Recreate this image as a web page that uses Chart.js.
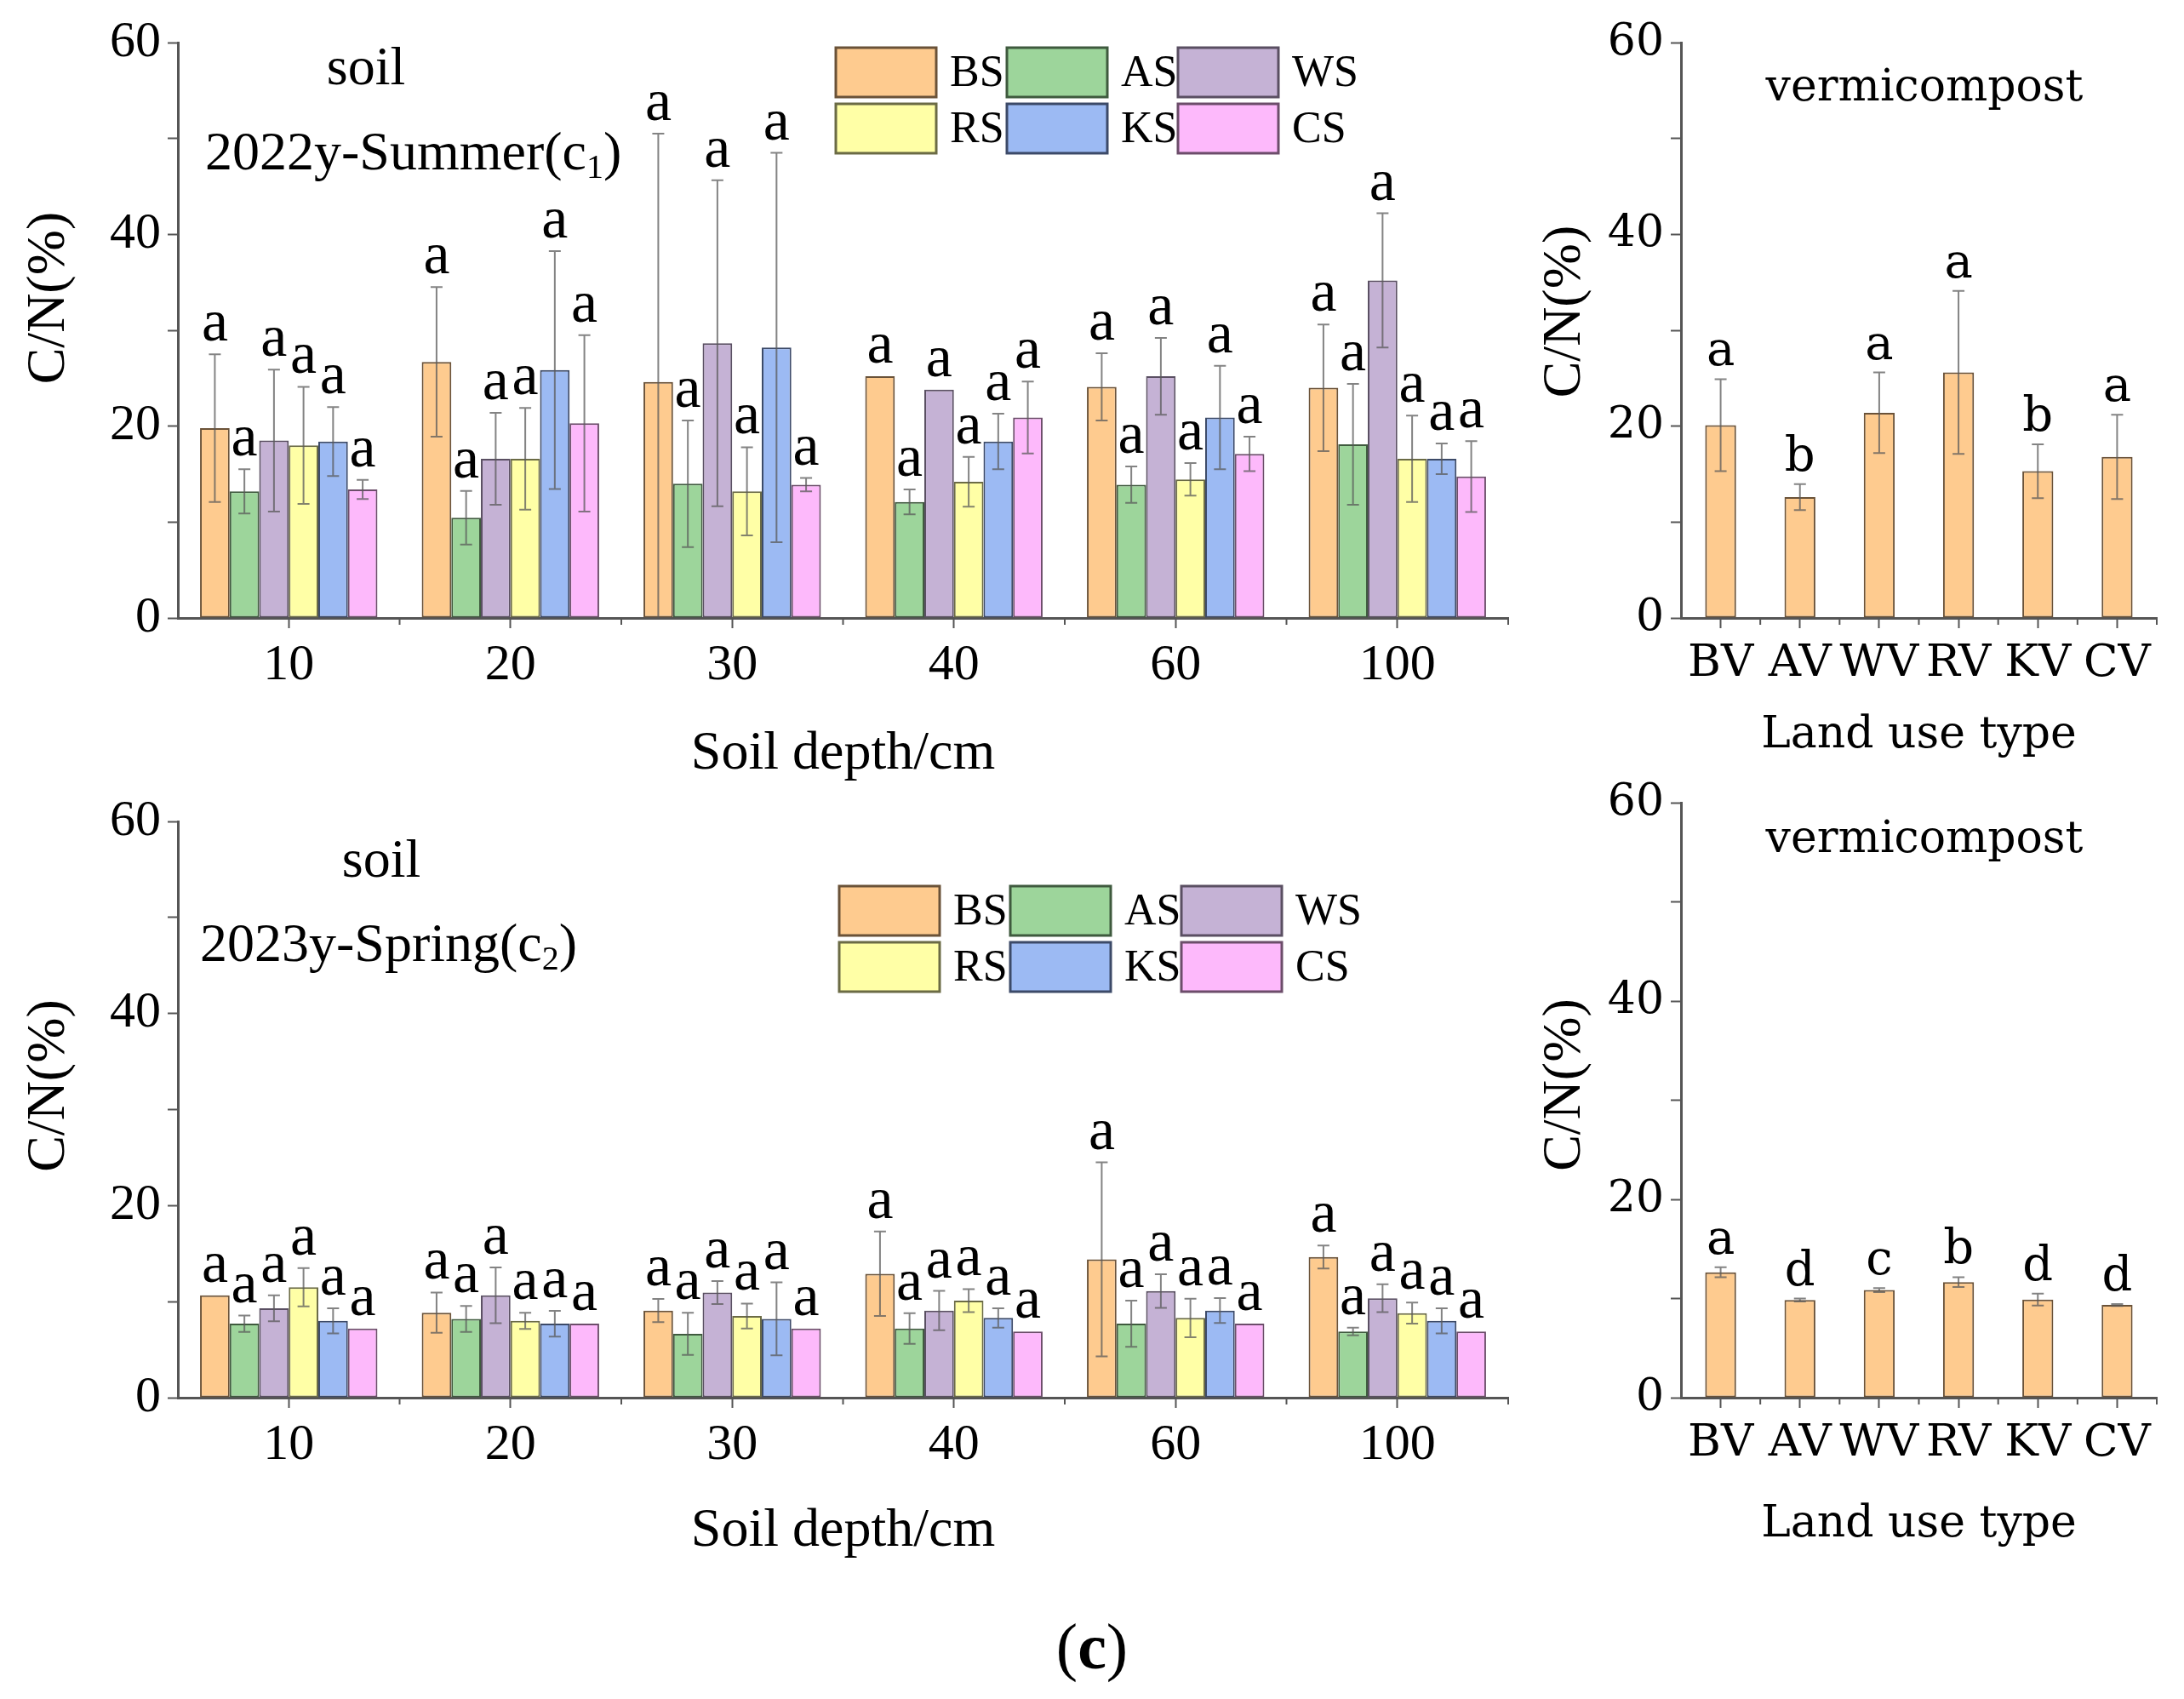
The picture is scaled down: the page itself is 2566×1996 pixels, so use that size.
<!DOCTYPE html>
<html>
<head>
<meta charset="utf-8">
<script src="https://cdn.jsdelivr.net/npm/chart.js@4.4.1/dist/chart.umd.min.js"></script>
<style>
  body { margin: 0; background: #fff; width: 2566px; height: 1996px; position: relative; overflow: hidden; }
  canvas { position: absolute; }
  #caption { position: absolute; left: 1183px; width: 200px; top: 1889px; text-align: center;
             font: 76px 'Liberation Serif', serif; line-height: 90px; color: #000; }
</style>
</head>
<body>
<canvas id="summerSoil" width="1800" height="940" style="left:0;top:0"></canvas>
<canvas id="summerVermi" width="766" height="940" style="left:1800px;top:0"></canvas>
<canvas id="springSoil" width="1800" height="1000" style="left:0;top:900px"></canvas>
<canvas id="springVermi" width="766" height="1000" style="left:1800px;top:900px"></canvas>
<div id="caption">(<b>c</b>)</div>
<script>
// categories
const depths = ['10', '20', '30', '40', '60', '100'];
const soilTypes = ['BS', 'AS', 'WS', 'RS', 'KS', 'CS'];
const landTypes = ['BV', 'AV', 'WV', 'RV', 'KV', 'CV'];

// 2022 summer, soil C/N by depth
const sumBS = [19.8, 26.7, 24.6, 25.2, 24.1, 24.0];
const sumAS = [13.2, 10.45, 14.0, 12.1, 13.9, 18.1];
const sumWS = [18.5, 16.6, 28.65, 23.8, 25.2, 35.2];
const sumRS = [18.0, 16.6, 13.2, 14.2, 14.45, 16.6];
const sumKS = [18.4, 25.85, 28.2, 18.4, 20.9, 16.6];
const sumCS = [13.4, 20.3, 13.9, 20.9, 17.1, 14.75];
const sumBSerr = [7.7, 7.8, 25.9, 0, 3.5, 6.6];
const sumASerr = [2.3, 2.8, 6.6, 1.3, 1.9, 6.3];
const sumWSerr = [7.4, 4.8, 17.0, 0, 4.0, 7.0];
const sumRSerr = [6.1, 5.3, 4.6, 2.6, 1.7, 4.5];
const sumKSerr = [3.6, 12.4, 20.3, 2.9, 5.4, 1.6];
const sumCSerr = [1.0, 9.2, 0.7, 3.75, 1.8, 3.7];

// 2023 spring, soil C/N by depth
const sprBS = [10.65, 8.85, 9.07, 12.9, 14.4, 14.65];
const sprAS = [7.7, 8.2, 6.65, 7.2, 7.7, 6.9];
const sprWS = [9.3, 10.65, 10.95, 9.07, 11.1, 10.35];
const sprRS = [11.5, 8.0, 8.5, 10.1, 8.3, 8.8];
const sprKS = [8.0, 7.7, 8.2, 8.3, 9.07, 8.0];
const sprCS = [7.2, 7.7, 7.2, 6.9, 7.7, 6.9];
const sprBSerr = [0, 2.1, 1.2, 4.4, 10.1, 1.2];
const sprASerr = [0.85, 1.35, 2.2, 1.6, 2.4, 0.4];
const sprWSerr = [1.35, 2.9, 1.2, 2.05, 1.75, 1.45];
const sprRSerr = [2.0, 0.85, 1.3, 1.2, 2.0, 1.1];
const sprKSerr = [1.3, 1.35, 3.8, 1.0, 1.3, 1.3];
const sprCSerr = [0, 0, 0, 0, 0, 0];

// vermicompost C/N by land use type
const sumVermi = [20.1, 12.6, 21.4, 25.6, 15.3, 16.8];
const sumVermiErr = [4.8, 1.35, 4.2, 8.5, 2.8, 4.4];
const sumVermiLetters = ['a', 'b', 'a', 'a', 'b', 'a'];
const sprVermi = [12.65, 9.85, 10.85, 11.65, 9.9, 9.35];
const sprVermiErr = [0.5, 0.15, 0.2, 0.5, 0.6, 0.1];
const sprVermiLetters = ['a', 'd', 'c', 'b', 'd', 'd'];

const fills = ['#FECB8F', '#9DD59B', '#C5B2D5', '#FFFFA6', '#9CBAF3', '#FDB9FB'];
const edges = ['#6a5238', '#3f5a3e', '#5a4f62', '#6b6b45', '#3c4a68', '#6c4d6a'];
const axisColor = '#555';
const TIMES = "'Liberation Serif', 'Times New Roman', serif";
const DEJAVU = "'DejaVu Serif', serif";

// error bars, letters, minor ticks, legend and panel labels
const marks = {
  id: 'marks',
  afterDatasetsDraw(chart, args, o) {
    const ctx = chart.ctx, xs = chart.scales.x, ys = chart.scales.y, area = chart.chartArea;
    ctx.save();

    // minor ticks between categories
    const step = xs.getPixelForValue(1) - xs.getPixelForValue(0);
    ctx.strokeStyle = axisColor;
    ctx.lineWidth = 2;
    for (let i = 0; i < chart.data.labels.length; i++) {
      const px = xs.getPixelForValue(i) + step / 2;
      ctx.beginPath();
      ctx.moveTo(px, area.bottom);
      ctx.lineTo(px, area.bottom + 8);
      ctx.stroke();
    }

    chart.data.datasets.forEach((ds, i) => {
      const meta = chart.getDatasetMeta(i);
      meta.data.forEach((bar, j) => {
        const v = ds.data[j], e = ds.errors[j];
        const top = ys.getPixelForValue(v + e);
        if (e > 0) {
          const low = v - e;
          const bot = ys.getPixelForValue(Math.max(low, 0));
          ctx.strokeStyle = 'rgba(90,90,90,0.75)';
          ctx.lineWidth = 2;
          ctx.beginPath();
          ctx.moveTo(bar.x, top); ctx.lineTo(bar.x, bot);
          ctx.moveTo(bar.x - o.cap, top); ctx.lineTo(bar.x + o.cap, top);
          if (low > 0) { ctx.moveTo(bar.x - o.cap, bot); ctx.lineTo(bar.x + o.cap, bot); }
          ctx.stroke();
        }
        ctx.fillStyle = '#000';
        ctx.font = o.letterFont;
        ctx.textAlign = 'center';
        ctx.textBaseline = 'alphabetic';
        ctx.fillText(ds.letters[j], bar.x, top - o.letterGap);
      });
    });

    // y axis title, a little above the middle of the axis
    ctx.save();
    ctx.translate(o.yTitle.x, (area.top + area.bottom) / 2 + o.yTitle.dy);
    ctx.rotate(-Math.PI / 2);
    ctx.font = '64px ' + TIMES;
    ctx.fillStyle = '#000';
    ctx.textAlign = 'center';
    ctx.textBaseline = 'middle';
    ctx.fillText('C/N(%)', 0, 0);
    ctx.restore();

    // panel labels
    ctx.fillStyle = '#000';
    ctx.textBaseline = 'alphabetic';
    o.labels.forEach(l => {
      ctx.font = l.font;
      ctx.textAlign = l.align;
      let x = area.left + l.dx;
      const y = area.top + l.dy;
      ctx.fillText(l.text, x, y);
      if (l.sub) {
        ctx.textAlign = 'left';
        x += ctx.measureText(l.text).width;
        ctx.font = l.subFont;
        ctx.fillText(l.sub, x, y + 10);
        x += ctx.measureText(l.sub).width;
        ctx.font = l.font;
        ctx.fillText(l.after, x, y);
      }
    });

    // legend: 3 columns x 2 rows
    if (o.legend) {
      const lg = o.legend;
      chart.data.datasets.forEach((ds, i) => {
        const col = i % 3, row = Math.floor(i / 3);
        const bx = area.left + lg.dx + col * 201;
        const by = area.top + lg.dy + row * 66;
        ctx.fillStyle = ds.backgroundColor;
        ctx.fillRect(bx, by, 118, 58);
        ctx.strokeStyle = ds.borderColor;
        ctx.lineWidth = 3;
        ctx.strokeRect(bx, by, 118, 58);
        ctx.fillStyle = '#000';
        ctx.font = '52px ' + TIMES;
        ctx.textAlign = 'left';
        ctx.textBaseline = 'middle';
        ctx.fillText(ds.label, bx + 134, by + 31);
      });
    }
    ctx.restore();
  }
};

function scaleOptions(c) {
  return {
    x: {
      grid: { drawOnChartArea: false, offset: false, tickLength: 12, tickWidth: 2, tickColor: axisColor },
      border: { color: axisColor, width: 3 },
      ticks: { color: '#000', font: { family: c.family, size: c.xTickSize }, padding: c.xTickPad,
               maxRotation: 0, autoSkip: false },
      title: { display: true, text: c.xTitle, color: '#000',
               font: { family: c.family, size: c.titleSize, lineHeight: 1 }, padding: { top: 0, bottom: c.xTitlePad } },
      afterFit: s => { s.height = c.xHeight; }
    },
    y: {
      min: 0, max: 60,
      grid: { drawOnChartArea: false, tickLength: 12, tickWidth: 2, tickColor: axisColor },
      border: { color: axisColor, width: 3 },
      ticks: { stepSize: 10, color: '#000', padding: 8,
               font: { family: c.family, size: c.yTickSize, lineHeight: 1 },
               callback: v => (v % 20 === 0 ? v : '') },
      afterFit: s => { s.width = c.yWidth; }
    }
  };
}

function soilDatasets(values, errs) {
  return soilTypes.map((name, i) => ({
    label: name,
    data: values[i],
    errors: errs[i],
    letters: values[i].map(() => 'a'),
    backgroundColor: fills[i],
    borderColor: edges[i],
    borderWidth: 2,
    borderSkipped: false,
    categoryPercentage: 0.8,
    barPercentage: 1.0
  }));
}

function vermiDataset(values, errs, letters) {
  return [{
    label: 'vermicompost',
    data: values,
    errors: errs,
    letters: letters,
    backgroundColor: fills[0],
    borderColor: edges[0],
    borderWidth: 2,
    borderSkipped: false,
    categoryPercentage: 1.0,
    barPercentage: 0.39
  }];
}

function makeChart(id, labels, datasets, c, markOpts) {
  return new Chart(document.getElementById(id), {
    type: 'bar',
    data: { labels: labels, datasets: datasets },
    options: {
      responsive: false,
      animation: false,
      devicePixelRatio: 1,
      layout: { padding: c.padding },
      plugins: { legend: { display: false }, tooltip: { enabled: false }, marks: markOpts },
      scales: scaleOptions(c)
    },
    plugins: [marks]
  });
}

const soilLetterFont = '70px ' + TIMES;
const vermiLetterFont = '56px ' + DEJAVU;

makeChart('summerSoil', depths,
  soilDatasets([sumBS, sumAS, sumWS, sumRS, sumKS, sumCS],
               [sumBSerr, sumASerr, sumWSerr, sumRSerr, sumKSerr, sumCSerr]),
  { family: TIMES, xTickSize: 60, yTickSize: 60, titleSize: 64, xTitle: 'Soil depth/cm',
    padding: { left: 0, right: 28, top: 50, bottom: 0 },
    xHeight: 214, yWidth: 209, xTickPad: 8, xTitlePad: 22 },
  { cap: 7, letterGap: 16, letterFont: soilLetterFont,
    yTitle: { x: 58, dy: -38 },
    legend: { dx: 773, dy: 6 },
    labels: [
      { text: 'soil', font: '64px ' + TIMES, align: 'center', dx: 221, dy: 49 },
      { text: '2022y-Summer(c', sub: '1', after: ')', font: '64px ' + TIMES, subFont: '40px ' + TIMES,
        align: 'left', dx: 32, dy: 149 }
    ] });

makeChart('summerVermi', landTypes,
  vermiDataset(sumVermi, sumVermiErr, sumVermiLetters),
  { family: DEJAVU, xTickSize: 53, yTickSize: 52, titleSize: 52, xTitle: 'Land use type',
    padding: { left: 0, right: 32, top: 50, bottom: 0 },
    xHeight: 214, yWidth: 175, xTickPad: 10, xTitlePad: 50 },
  { cap: 7, letterGap: 16, letterFont: vermiLetterFont,
    yTitle: { x: 39, dy: -22 },
    labels: [
      { text: 'vermicompost', font: '52px ' + DEJAVU, align: 'center', dx: 286, dy: 68 }
    ] });

makeChart('springSoil', depths,
  soilDatasets([sprBS, sprAS, sprWS, sprRS, sprKS, sprCS],
               [sprBSerr, sprASerr, sprWSerr, sprRSerr, sprKSerr, sprCSerr]),
  { family: TIMES, xTickSize: 60, yTickSize: 60, titleSize: 64, xTitle: 'Soil depth/cm',
    padding: { left: 0, right: 28, top: 65, bottom: 0 },
    xHeight: 258, yWidth: 209, xTickPad: 8, xTitlePad: 69 },
  { cap: 7, letterGap: 16, letterFont: soilLetterFont,
    yTitle: { x: 58, dy: -28 },
    legend: { dx: 777, dy: 76 },
    labels: [
      { text: 'soil', font: '64px ' + TIMES, align: 'center', dx: 239, dy: 65 },
      { text: '2023y-Spring(c', sub: '2', after: ')', font: '64px ' + TIMES, subFont: '40px ' + TIMES,
        align: 'left', dx: 26, dy: 164 }
    ] });

makeChart('springVermi', landTypes,
  vermiDataset(sprVermi, sprVermiErr, sprVermiLetters),
  { family: DEJAVU, xTickSize: 53, yTickSize: 52, titleSize: 52, xTitle: 'Land use type',
    padding: { left: 0, right: 32, top: 43, bottom: 0 },
    xHeight: 258, yWidth: 175, xTickPad: 10, xTitlePad: 83 },
  { cap: 7, letterGap: 16, letterFont: vermiLetterFont,
    yTitle: { x: 39, dy: -18 },
    labels: [
      { text: 'vermicompost', font: '52px ' + DEJAVU, align: 'center', dx: 286, dy: 58 }
    ] });
</script>
</body>
</html>
